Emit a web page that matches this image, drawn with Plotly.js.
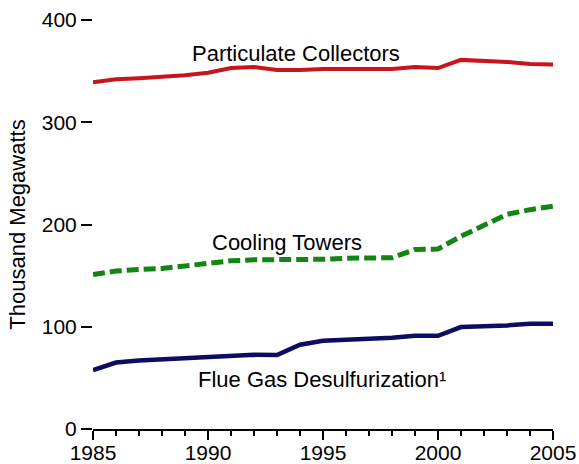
<!DOCTYPE html>
<html>
<head>
<meta charset="utf-8">
<script src="https://cdn.plot.ly/plotly-3.0.1.min.js"></script>
<style>html,body{margin:0;padding:0;background:#fff}#chart{width:579px;height:464px}</style>
</head>
<body>
<div id="chart"></div>
<script>
const years = [1985,1986,1987,1988,1989,1990,1991,1992,1993,1994,1995,1996,1997,1998,1999,2000,2001,2002,2003,2004,2005];
const particulateCollectors = [339,342,343,344.5,346,348.5,353,354,351,351,352,352,352,352,354,353,361,360,359,357,356.5];
const coolingTowers = [151,154.5,156,157,159.5,162.5,164.5,165.5,165.5,165.5,166,167,167.5,167.5,175.5,176,188.5,199.5,210,214.5,218];
const flueGasDesulfurization = [57.5,65,67,68.3,69,70.3,71.6,72.5,72.3,82.4,86.3,87.3,88,89.2,91.2,91.2,99.7,100.3,101.3,103,103];
const seriesLabels = ["Particulate Collectors","Cooling Towers","Flue Gas Desulfurization¹"];
const yTickVals = [0,100,200,300,400];
const xTickVals = [1985,1990,1995,2000,2005];

const font = "Liberation Sans, Arial, sans-serif";
const traces = [
  {x: years, y: particulateCollectors, name: seriesLabels[0], mode: "lines", line: {color: "#c8141c", width: 4}},
  {x: years, y: coolingTowers, name: seriesLabels[1], mode: "lines", line: {color: "#128512", width: 5, dash: "12px,5px"}},
  {x: years, y: flueGasDesulfurization, name: seriesLabels[2], mode: "lines", line: {color: "#0c0c62", width: 4.5}}
];
const layout = {
  width: 579, height: 464,
  margin: {l: 93, r: 26, t: 20, b: 35},
  paper_bgcolor: "#fff", plot_bgcolor: "#fff",
  showlegend: false,
  font: {family: font, size: 21, color: "#000"},
  xaxis: {
    range: [1985, 2005], tickvals: xTickVals, ticktext: xTickVals.map(String),
    showgrid: false, zeroline: false, showline: true, linecolor: "#000", linewidth: 2,
    ticks: "outside", ticklen: 9, tickwidth: 2, tickcolor: "#000",
    minor: {dtick: 1, tick0: 1985, ticks: "outside", ticklen: 5, tickwidth: 2, tickcolor: "#000", showgrid: false},
    tickfont: {size: 21, family: font}, ticklabelstandoff: -5
  },
  yaxis: {
    range: [0, 400], tickvals: yTickVals, ticktext: yTickVals.map(String),
    showgrid: false, zeroline: false, showline: false,
    ticks: "outside", ticklen: 11, tickwidth: 2, tickcolor: "#000",
    tickfont: {size: 21, family: font},
    title: {text: "Thousand Megawatts", font: {size: 22, family: font}, standoff: 10}
  },
  annotations: [
    {x: 1993.84, y: 367.6, xref: "x", yref: "y", text: seriesLabels[0], showarrow: false, font: {size: 22, family: font}},
    {x: 1993.45, y: 182.4, xref: "x", yref: "y", text: seriesLabels[1], showarrow: false, font: {size: 22, family: font}},
    {x: 1994.97, y: 48, xref: "x", yref: "y", text: seriesLabels[2], showarrow: false, font: {size: 22, family: font}}
  ]
};
Plotly.newPlot("chart", traces, layout, {displayModeBar: false, staticPlot: true});
</script>
</body>
</html>
